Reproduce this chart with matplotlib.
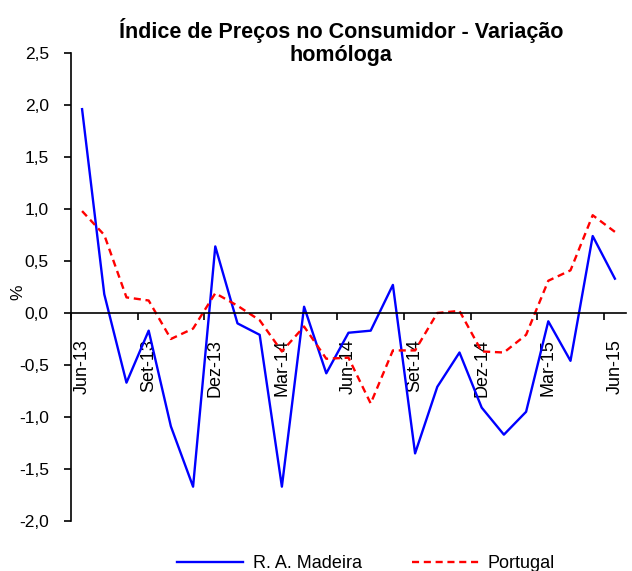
import numpy as np
import matplotlib
matplotlib.use('Agg')
import matplotlib.pyplot as plt
from matplotlib.ticker import FixedLocator, FuncFormatter

plt.rcParams['font.family'] = ['Liberation Sans', 'DejaVu Sans']

# Monthly, Jun-13 .. Jun-15
months = ['Jun-13', 'Jul-13', 'Ago-13', 'Set-13', 'Out-13', 'Nov-13', 'Dez-13',
          'Jan-14', 'Fev-14', 'Mar-14', 'Abr-14', 'Mai-14', 'Jun-14', 'Jul-14',
          'Ago-14', 'Set-14', 'Out-14', 'Nov-14', 'Dez-14', 'Jan-15', 'Fev-15',
          'Mar-15', 'Abr-15', 'Mai-15', 'Jun-15']
madeira = [1.96, 0.18, -0.67, -0.17, -1.09, -1.67, 0.64, -0.10, -0.21, -1.67,
           0.06, -0.58, -0.19, -0.17, 0.27, -1.35, -0.71, -0.38, -0.91, -1.17,
           -0.95, -0.08, -0.46, 0.74, 0.33]
portugal = [0.98, 0.75, 0.15, 0.12, -0.25, -0.15, 0.19, 0.07, -0.07, -0.37,
            -0.13, -0.44, -0.43, -0.87, -0.36, -0.36, 0.00, 0.02, -0.37, -0.38,
            -0.21, 0.31, 0.41, 0.94, 0.78]

fig = plt.figure(figsize=(6.32, 5.71), dpi=100)
ax = fig.add_axes([0.1123, 0.0876, 0.8782, 0.8196])

x = np.arange(len(months))
l1, = ax.plot(x, madeira, color='#0000ff', lw=1.7, label='R. A. Madeira')
l2, = ax.plot(x, portugal, color='#ff0000', lw=1.7, ls=(0, (3, 2)), label='Portugal')

ax.set_xlim(-0.5, len(months) - 0.5)
ax.set_ylim(-2.0, 2.5)
ax.set_yticks(np.arange(-2.0, 2.51, 0.5))
ax.yaxis.set_major_formatter(FuncFormatter(lambda v, p: f'{v:.1f}'.replace('.', ',')))
ax.tick_params(axis='y', direction='out', length=5, width=1.2, labelsize=12.5, pad=11)

# category axis: tick marks between categories, labels every 3rd month
ax.spines['bottom'].set_position(('data', 0))
ax.xaxis.set_major_locator(FixedLocator(np.arange(-0.5, len(months), 3)))
ax.xaxis.set_major_formatter(FuncFormatter(lambda v, p: ''))
ax.set_xticks(x[::3], [months[i] for i in x[::3]], minor=True, rotation=90)
ax.tick_params(axis='x', which='major', direction='out', length=5, width=1.2)
ax.tick_params(axis='x', which='minor', length=0, labelsize=13, pad=19)

for s in ['top', 'right']:
    ax.spines[s].set_visible(False)
ax.spines['left'].set_linewidth(1.2)
ax.spines['bottom'].set_linewidth(1.2)

ax.set_ylabel('%', fontsize=12.5)
ax.yaxis.set_label_coords(-0.082, 0.489)

fig.text(0.540, 1 - 42 / 571, 'Índice de Preços no Consumidor - Variação\nhomóloga',
         ha='center', va='center', fontsize=15.5, fontweight='bold', linespacing=1.1)

fig.legend(handles=[l1, l2], loc='center', bbox_to_anchor=(0.579, 1 - 564 / 571),
           ncol=2, frameon=False, fontsize=13, handlelength=3.7,
           handletextpad=0.5, columnspacing=2.8)

fig.savefig('out.png', dpi=100)
